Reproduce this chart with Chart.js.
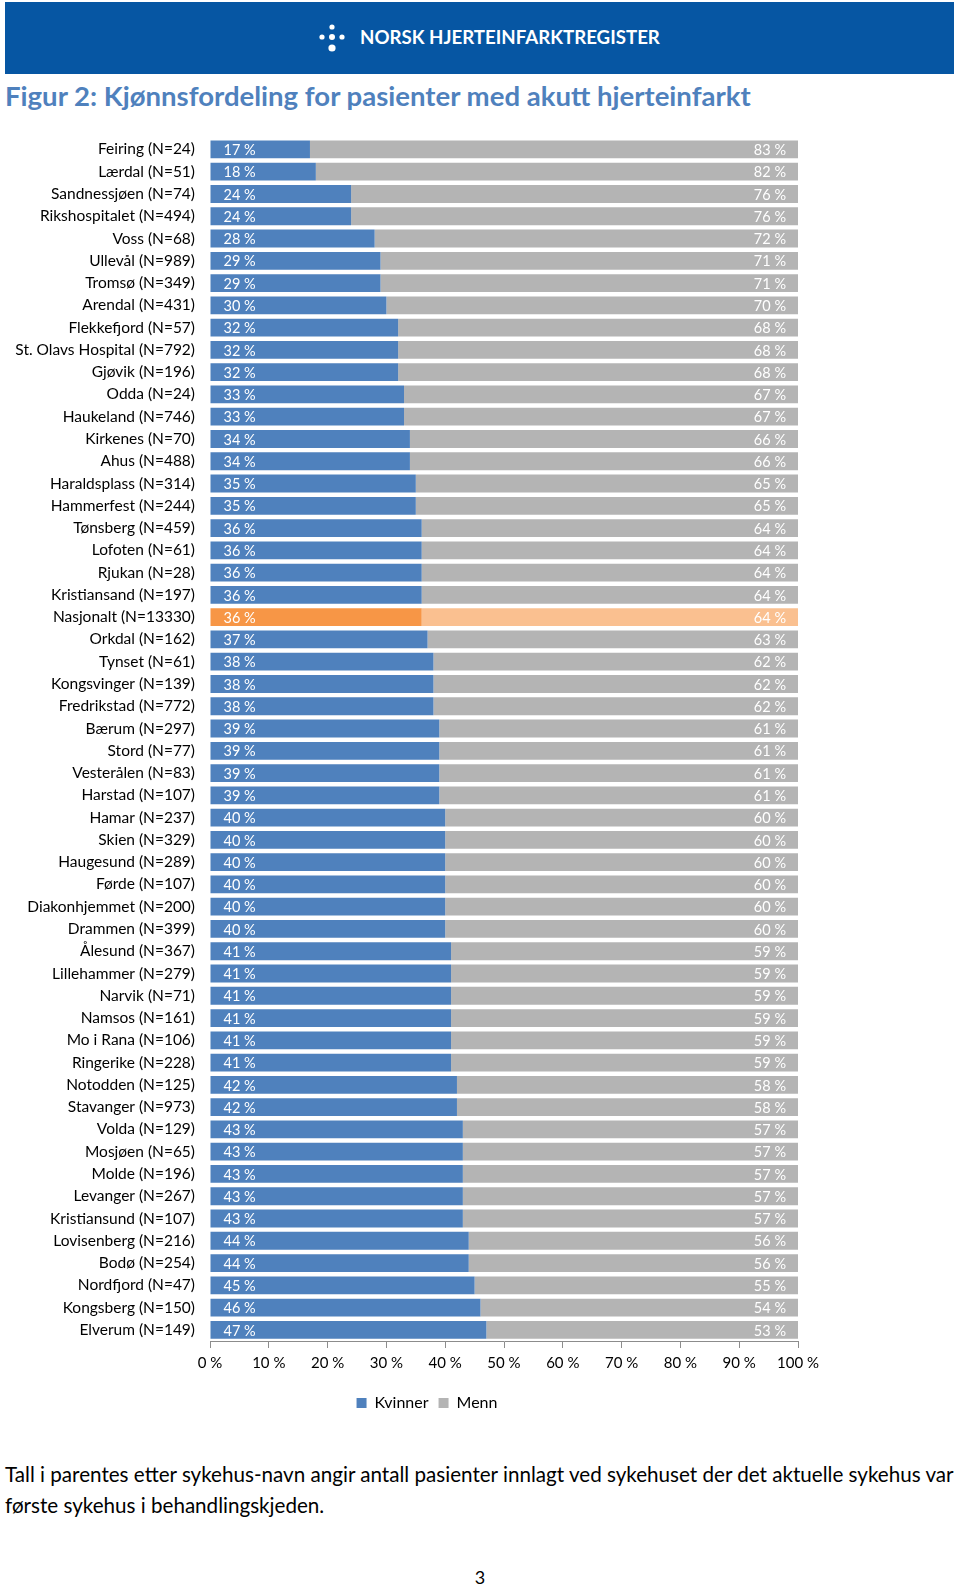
<!DOCTYPE html>
<html lang="no">
<head>
<meta charset="UTF-8" />
<title>Kjønnsfordeling</title>
<script src="https://cdn.jsdelivr.net/npm/chart.js@4"></script>
<style>
  body { margin: 0; background: #fff; font-family: Lato, "Liberation Sans", sans-serif; }
  #page { position: relative; width: 960px; height: 1588px; overflow: hidden; }
  #band { position: absolute; left: 5px; top: 2px; width: 949px; height: 72px; background: #0656a3; }
  #logo { position: absolute; left: 318px; top: 22px; }
  #logotext { position: absolute; left: 360px; top: 26px; color: #fff; font-weight: bold; font-size: 19px; white-space: nowrap; line-height: 22px; }
  #title { position: absolute; left: 5px; top: 80px; color: #4f81bd; font-weight: bold; font-size: 27px; white-space: nowrap; line-height: 32px; }
  #chartbox { position: absolute; left: 0; top: 114px; }
  .foot { position: absolute; left: 5px; font-size: 18px; white-space: nowrap; line-height: 22px; color: #000; }
  #pno { position: absolute; left: 0; width: 960px; top: 1566px; text-align: center; font-size: 18px; }
</style>
</head>
<body>
<div id="page">
  <div id="band"></div>
  <svg id="logo" width="34" height="32" viewBox="0 0 34 32">
    <circle cx="4" cy="15" r="2.6" fill="#fff"/>
    <circle cx="14" cy="5" r="2.6" fill="#fff"/>
    <circle cx="14" cy="15" r="3" fill="#fff"/>
    <circle cx="14" cy="26" r="3.6" fill="#fff"/>
    <circle cx="24" cy="15" r="2.6" fill="#fff"/>
  </svg>
  <div id="logotext">NORSK HJERTEINFARKTREGISTER</div>
  <div id="title">Figur 2: Kjønnsfordeling for pasienter med akutt hjerteinfarkt</div>
  <div id="chartbox"><canvas id="chart" width="960" height="1316"></canvas></div>
  <div class="foot" id="foot1" style="top:1463px">Tall i parentes etter sykehus-navn angir antall pasienter innlagt ved sykehuset der det aktuelle sykehus var</div>
  <div class="foot" id="foot2" style="top:1494px">første sykehus i behandlingskjeden.</div>
  <div id="pno">3</div>
</div>
<script>
// sykehus (N = antall pasienter)
const hospitals = ['Feiring (N=24)', 'Lærdal (N=51)', 'Sandnessjøen (N=74)', 'Rikshospitalet (N=494)',
  'Voss (N=68)', 'Ullevål (N=989)', 'Tromsø (N=349)', 'Arendal (N=431)', 'Flekkefjord (N=57)',
  'St. Olavs Hospital (N=792)', 'Gjøvik (N=196)', 'Odda (N=24)', 'Haukeland (N=746)', 'Kirkenes (N=70)',
  'Ahus (N=488)', 'Haraldsplass (N=314)', 'Hammerfest (N=244)', 'Tønsberg (N=459)', 'Lofoten (N=61)',
  'Rjukan (N=28)', 'Kristiansand (N=197)', 'Nasjonalt (N=13330)', 'Orkdal (N=162)', 'Tynset (N=61)',
  'Kongsvinger (N=139)', 'Fredrikstad (N=772)', 'Bærum (N=297)', 'Stord (N=77)', 'Vesterålen (N=83)',
  'Harstad (N=107)', 'Hamar (N=237)', 'Skien (N=329)', 'Haugesund (N=289)', 'Førde (N=107)',
  'Diakonhjemmet (N=200)', 'Drammen (N=399)', 'Ålesund (N=367)', 'Lillehammer (N=279)', 'Narvik (N=71)',
  'Namsos (N=161)', 'Mo i Rana (N=106)', 'Ringerike (N=228)', 'Notodden (N=125)', 'Stavanger (N=973)',
  'Volda (N=129)', 'Mosjøen (N=65)', 'Molde (N=196)', 'Levanger (N=267)', 'Kristiansund (N=107)',
  'Lovisenberg (N=216)', 'Bodø (N=254)', 'Nordfjord (N=47)', 'Kongsberg (N=150)', 'Elverum (N=149)'];

const kvinner = [17, 18, 24, 24, 28, 29, 29, 30, 32, 32, 32, 33, 33, 34, 34, 35, 35, 36, 36, 36, 36, 36,
  37, 38, 38, 38, 39, 39, 39, 39, 40, 40, 40, 40, 40, 40, 41, 41, 41, 41, 41, 41, 42, 42, 43, 43, 43, 43, 43,
  44, 44, 45, 46, 47];

const menn = [83, 82, 76, 76, 72, 71, 71, 70, 68, 68, 68, 67, 67, 66, 66, 65, 65, 64, 64, 64, 64, 64,
  63, 62, 62, 62, 61, 61, 61, 61, 60, 60, 60, 60, 60, 60, 59, 59, 59, 59, 59, 59, 58, 58, 57, 57, 57, 57, 57,
  56, 56, 55, 54, 53];

const xTicks = [0, 10, 20, 30, 40, 50, 60, 70, 80, 90, 100];

const FONT = 'Lato, "Liberation Sans", sans-serif';
const national = hospitals.findIndex(h => h.startsWith('Nasjonalt'));

// fit a line of text to a given pixel width
function fitWidth(id, target) {
  const el = document.getElementById(id);
  const w = el.getBoundingClientRect().width;
  const size = parseFloat(getComputedStyle(el).fontSize);
  el.style.fontSize = (size * target / w).toFixed(2) + 'px';
}
fitWidth('logotext', 300);
fitWidth('title', 746);
fitWidth('foot1', 949);
document.getElementById('foot2').style.fontSize = document.getElementById('foot1').style.fontSize;

// percent labels inside bars
const barLabels = {
  id: 'barLabels',
  afterDatasetsDraw(chart) {
    const ctx = chart.ctx;
    ctx.save();
    ctx.font = '14.5px ' + FONT;
    ctx.fillStyle = '#ffffff';
    ctx.textBaseline = 'middle';
    chart.getDatasetMeta(0).data.forEach((bar, i) => {
      ctx.textAlign = 'left';
      ctx.fillText(kvinner[i] + ' %', bar.base + 13, bar.y + 1);
    });
    chart.getDatasetMeta(1).data.forEach((bar, i) => {
      ctx.textAlign = 'right';
      ctx.fillText(menn[i] + ' %', bar.x - 12, bar.y + 1);
    });
    ctx.restore();
  }
};

// legend sits a bit right of the plot's centre in the original
const legendShift = {
  id: 'legendShift',
  afterLayout(chart) {
    chart.legend.left += 28;
    chart.legend.right += 28;
  }
};

new Chart(document.getElementById('chart'), {
  type: 'bar',
  data: {
    labels: hospitals,
    datasets: [{
      label: 'Kvinner',
      data: kvinner,
      backgroundColor: c => c.dataIndex === national ? '#f79646' : '#4f81bd',
      barPercentage: 0.8,
      categoryPercentage: 1
    }, {
      label: 'Menn',
      data: menn,
      backgroundColor: c => c.dataIndex === national ? '#fac090' : '#b4b4b4',
      barPercentage: 0.8,
      categoryPercentage: 1
    }]
  },
  options: {
    indexAxis: 'y',
    responsive: false,
    animation: false,
    devicePixelRatio: 1,
    layout: { padding: { top: 0, left: 0, right: 162, bottom: 9 } },
    plugins: {
      legend: {
        position: 'bottom',
        labels: { boxWidth: 10, boxHeight: 10, padding: 10, color: '#000', font: { family: FONT, size: 16 } }
      },
      tooltip: { enabled: false }
    },
    scales: {
      x: {
        stacked: true,
        min: 0,
        max: 100,
        afterBuildTicks: s => { s.ticks = xTicks.map(v => ({ value: v })); },
        afterFit: s => { s.height = 44; },
        grid: { display: true, drawOnChartArea: false, drawTicks: true, tickLength: 7, color: '#8c8c8c' },
        border: { display: true, color: '#8c8c8c' },
        ticks: { padding: 6, color: '#000', font: { family: FONT, size: 15 }, callback: v => v + ' %' }
      },
      y: {
        stacked: true,
        afterFit: s => { s.width = 210; },
        grid: { display: false, drawTicks: false },
        border: { display: false },
        ticks: { autoSkip: false, padding: 15, color: '#000', font: { family: FONT, size: 15.5 } }
      }
    }
  },
  plugins: [barLabels, legendShift]
});
</script>
</body>
</html>
